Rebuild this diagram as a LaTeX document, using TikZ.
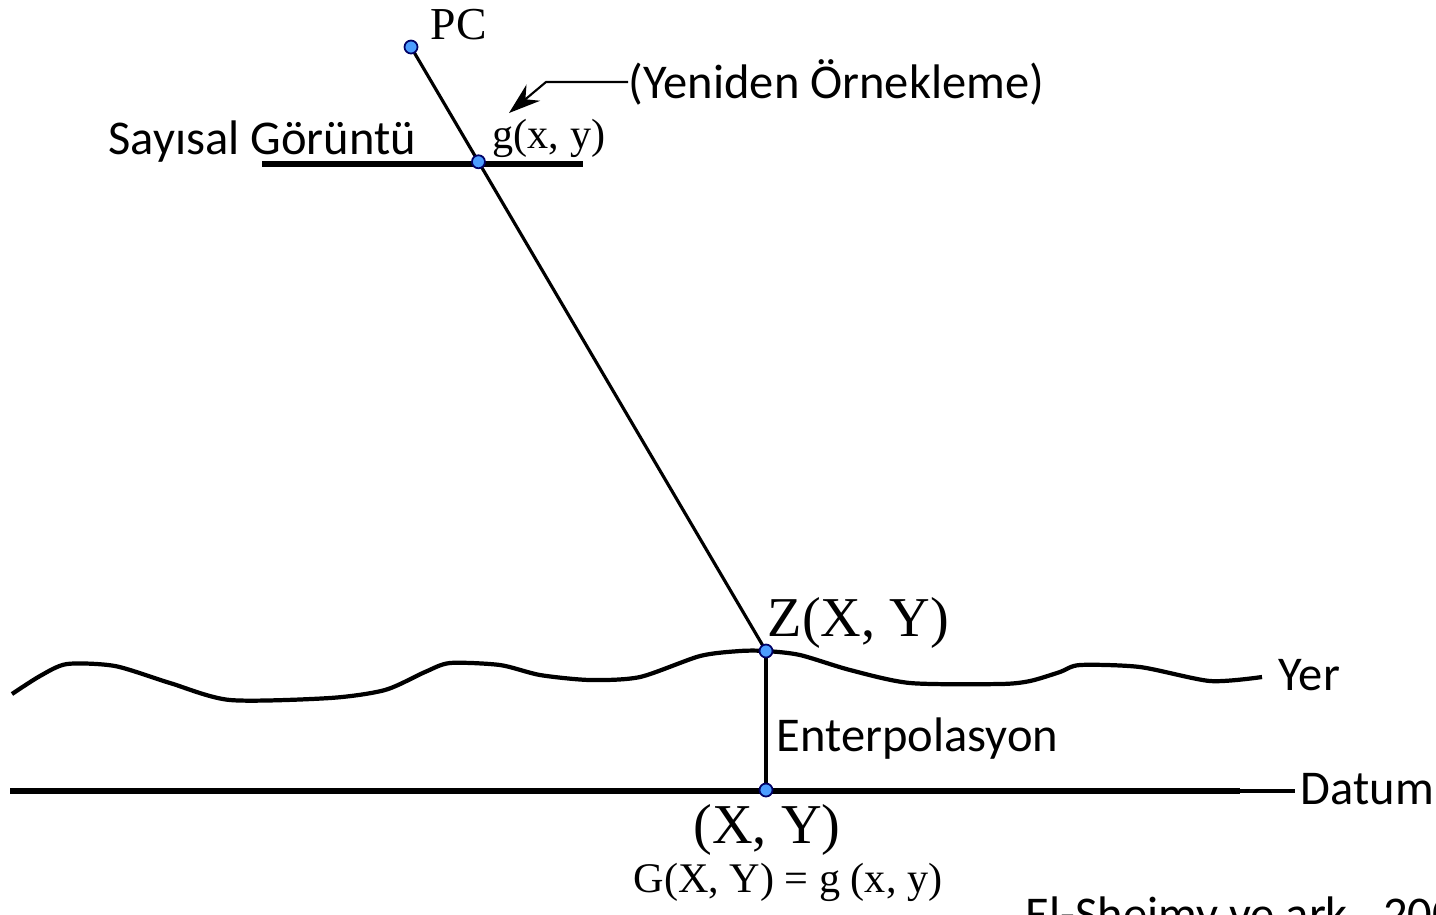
\documentclass[tikz,border=0pt]{standalone}
\usepackage{fontspec}
\setmainfont{Liberation Serif}
\newfontfamily\calibri{Carlito}
\usetikzlibrary{arrows.meta, calc}
\begin{document}
\begin{tikzpicture}[x=0.01cm, y=-0.01cm, >={Stealth[length=9pt,width=6pt]},
    dot/.style={circle, draw=blue!40!black, fill=blue!55!cyan!70!white, line width=0.5pt, inner sep=0pt, minimum size=0.13cm},
    lbl/.style={font=\calibri\fontsize{13.8}{16}\selectfont, inner sep=0pt},
    sym/.style={inner sep=0pt},
    plane/.style={line width=1.8pt},
    ray/.style={line width=0.9pt}]
    \useasboundingbox (0,0) rectangle (1436,914);
    % noktalar
    \coordinate (pc) at (411,47);
    \coordinate (zp) at (766,651);
    \coordinate (gp) at ($(pc)!0.19!(zp)$);
    \coordinate (xy) at (766,790);
    % görüntü düzlemi ve datum
    \coordinate (imgL) at (262,164);
    \coordinate (imgR) at (583,164);
    \coordinate (datL) at (10,791);
    \coordinate (datM) at (1240,791);
    \coordinate (datR) at (1295,791);
    \draw[plane] (imgL) -- (imgR);
    \draw[plane] (datL) -- (datM);
    \draw[ray] (datM) -- (datR);
    % yer yüzeyi
    \draw[line width=1.2pt, smooth, tension=0.45] plot coordinates {(12,694) (40,676) (67,664) (115,666) (170,683) (230,700) (330,698) (385,690) (425,672) (450,663) (500,665) (540,675) (590,680) (640,677) (700,656) (740,651) (766,651) (800,655) (850,670) (910,683) (1000,684) (1030,681) (1060,672) (1080,665) (1140,667) (1210,681) (1262,677)};
    \coordinate (yerR) at (1262,677);
    % ışın ve enterpolasyon
    \draw[ray] (pc) -- (zp);
    \draw[ray] (zp) -- (xy);
    % etiketler
    \node[dot] (pcdot) at (pc) {};
    \node[dot] (gdot) at (gp) {};
    \node[dot] (zdot) at (zp) {};
    \node[dot] (xydot) at (xy) {};
    \node[sym, anchor=west, font=\fontsize{13}{15}\selectfont] (pclbl) at (430,25) {PC};
    \node[sym, anchor=west, font=\fontsize{12}{14}\selectfont] (glbl) at (492,138) {g(x, y)};
    \node[lbl, anchor=west] (resamp) at (628,82) {(Yeniden Örnekleme)};
    \node[lbl, anchor=west] (sayisal) at (108,142) {Sayısal Görüntü};
    \node[sym, anchor=west, font=\fontsize{16}{19}\selectfont] (zlbl) at (767,623) {Z(X, Y)};
    \node[lbl, anchor=west] (yer) at (1278,675) {Yer};
    \node[lbl, anchor=west] (enterp) at (776,739) {Enterpolasyon};
    \node[lbl, anchor=west] (datum) at (1300,789) {Datum};
    \node[sym, font=\fontsize{16}{19}\selectfont] (xylbl) at (767,830) {(X, Y)};
    \node[sym, font=\fontsize{12}{14}\selectfont] (eq) at (788,882) {G(X, Y) = g (x, y)};
    \node[lbl, anchor=north west] (ref) at (1025,896) {El-Sheimy ve ark., 2005};
    % ok
    \coordinate (bend) at (546,82);
    \draw[->, line width=0.6pt] (resamp.west) -- (bend) -- (509,113);
\end{tikzpicture}
\end{document}
